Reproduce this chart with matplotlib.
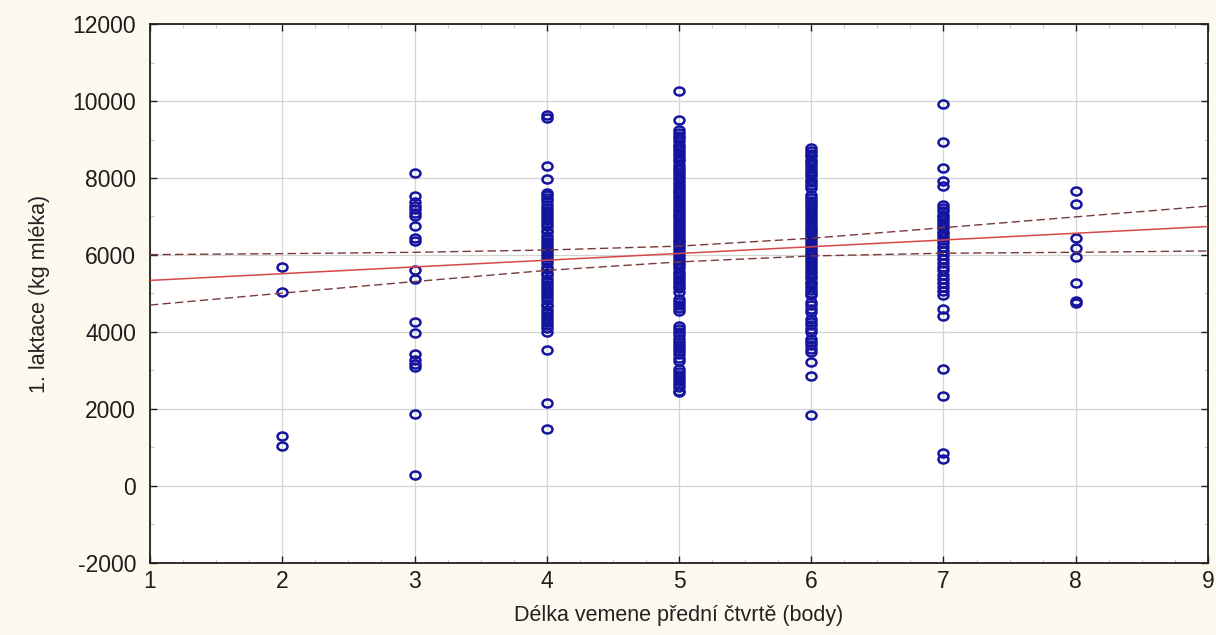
import matplotlib
matplotlib.use("Agg")
import matplotlib.pyplot as plt
from matplotlib.markers import MarkerStyle
from matplotlib.path import Path
from matplotlib.transforms import Affine2D
from matplotlib.ticker import MultipleLocator

# milk yield in first lactation (kg) grouped by fore udder length score
milk_2 = [5680, 5040, 1310, 1050]
milk_3 = [8130, 7540, 7370, 7280, 7190, 7100, 7010, 6750, 6430, 6360,
          5610, 5370, 4250, 3970, 3430, 3260, 3170, 3100, 1880, 280]
milk_4 = [9640, 9550, 8320, 7980,
          7620, 7550, 7470, 7390, 7300, 7230, 7140, 7070, 6980, 6910, 6820,
          6750, 6660, 6590, 6500, 6420, 6350, 6260, 6190, 6100, 6030, 5940,
          5870, 5780, 5700, 5630, 5540, 5470, 5380, 5300, 5230, 5140, 5070,
          4980, 4900, 4830, 4740, 4670, 4580, 4500, 4420, 4340, 4270, 4180,
          4100, 4000,
          3520, 2160, 1470]
milk_5 = [10260, 9500,
          9250, 9180, 9100, 9030, 8950, 8870, 8800, 8730, 8650, 8570, 8500,
          8430, 8350, 8270, 8200, 8130, 8050, 7970, 7900, 7830, 7750, 7670,
          7600, 7530, 7450, 7370, 7300, 7230, 7150, 7070, 7000, 6930, 6850,
          6770, 6700, 6630, 6550, 6470, 6400, 6330, 6250, 6170, 6100, 6030,
          5950, 5870, 5800, 5730, 5650, 5570, 5500, 5430, 5350, 5270, 5200,
          5130, 5050,
          4850, 4780, 4700, 4620, 4550,
          4160, 4090, 4010, 3920, 3830,
          3740, 3660, 3580, 3500, 3420, 3330, 3240,
          3040, 2960, 2880, 2800, 2720, 2640, 2560, 2480, 2440]
milk_6 = [8780, 8700, 8630, 8560, 8480, 8410, 8330, 8260, 8190, 8110, 8040,
          7960, 7890, 7810, 7740,
          7560, 7490, 7410, 7340, 7260, 7190, 7110, 7040, 6960, 6890, 6810,
          6740, 6660, 6590, 6510, 6440, 6360, 6290, 6210, 6140, 6060, 5990,
          5910, 5840, 5760, 5690, 5610, 5540, 5460, 5390, 5310, 5240, 5160,
          5090, 5010, 4950,
          4770, 4690, 4610, 4530,
          4330, 4250, 4170, 4090, 4000,
          3820, 3740, 3660, 3570, 3490,
          3220, 2860, 1850]
milk_7 = [9930, 8940, 8250, 7920, 7790,
          7300, 7220, 7130, 7050, 6980, 6900, 6830, 6760, 6690, 6610, 6540,
          6470, 6400, 6300, 6200, 6100, 6000, 5900, 5800, 5700, 5600, 5480,
          5380, 5280, 5180, 5060, 4960,
          4600, 4410, 3040, 2350, 850, 690]
milk_8 = [7660, 7330, 6450, 6180, 5940, 5260, 4810, 4750]

groups = [(2, milk_2), (3, milk_3), (4, milk_4), (5, milk_5),
          (6, milk_6), (7, milk_7), (8, milk_8)]

# linear fit and 95% confidence band
fit_x = [1, 9]
fit_y = [5340, 6740]
band_x = [1, 2, 3, 4, 5, 6, 7, 8, 9]
band_upper = [6010, 6035, 6070, 6130, 6230, 6435, 6710, 6990, 7270]
band_lower = [4700, 5010, 5310, 5600, 5820, 5975, 6046, 6070, 6105]

plt.rcParams["font.family"] = ["Liberation Sans", "DejaVu Sans"]
plt.rcParams["axes.unicode_minus"] = False

# slightly flattened ring marker
ring = MarkerStyle(Path.unit_circle().transformed(Affine2D().scale(1.0, 0.8)))

fig = plt.figure(figsize=(12.16, 6.35), dpi=100)
fig.patch.set_facecolor("#fdf9ee")
ax = fig.add_axes([0.1234, 0.1134, 0.8700, 0.8488])
ax.set_facecolor("white")

for score, vals in groups:
    ax.plot([score] * len(vals), vals, linestyle="none", marker=ring,
            markersize=7.2, markerfacecolor="none", markeredgecolor="#14149e",
            markeredgewidth=1.8, zorder=3)

ax.plot(fit_x, fit_y, color="#d84848", linewidth=1.1, zorder=4)
ax.plot(band_x, band_upper, color="#7a3a3a", linewidth=1.0,
        linestyle=(0, (6, 3)), zorder=4)
ax.plot(band_x, band_lower, color="#7a3a3a", linewidth=1.0,
        linestyle=(0, (6, 3)), zorder=4)

ax.set_xlim(1, 9)
ax.set_ylim(-2000, 12000)
ax.xaxis.set_major_locator(MultipleLocator(1))
ax.xaxis.set_minor_locator(MultipleLocator(0.25))
ax.yaxis.set_major_locator(MultipleLocator(2000))
ax.yaxis.set_minor_locator(MultipleLocator(1000))

ax.grid(True, which="major", color="#d4d4d4", linewidth=0.9, zorder=0)
ax.set_axisbelow(True)

ax.tick_params(which="major", direction="in", length=5, width=1,
               top=True, right=True, labelsize=16.5, colors="#1e1e1e")
ax.tick_params(axis="y", which="major", pad=10)
ax.tick_params(axis="x", which="major", pad=5)
ax.tick_params(which="minor", direction="in", length=3, width=0.8,
               top=True, right=True, color="#c8c8c8")

for spine in ax.spines.values():
    spine.set_color("#202020")
    spine.set_linewidth(1.3)

ax.set_xlabel("Délka vemene přední čtvrtě (body)", fontsize=15.5,
              color="#222222", labelpad=9)
ax.set_ylabel("1. laktace (kg mléka)", fontsize=15.5, color="#222222",
              labelpad=16)

fig.savefig("out.png", dpi=100, facecolor=fig.get_facecolor())
